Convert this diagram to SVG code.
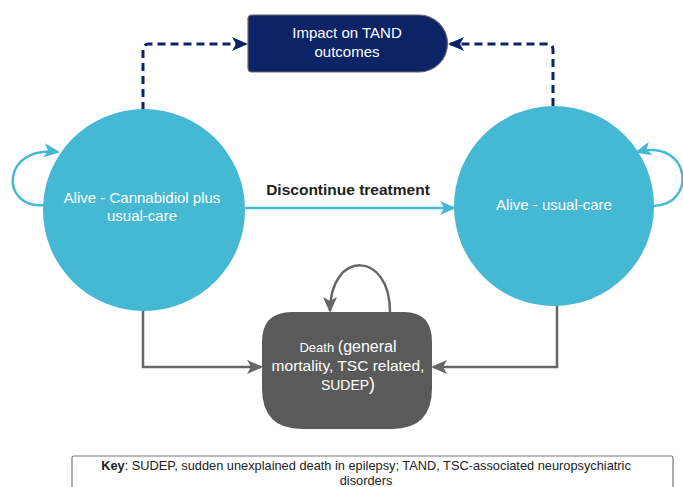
<svg xmlns="http://www.w3.org/2000/svg" width="683" height="487" viewBox="0 0 683 487">
<style>
text{font-family:"Liberation Sans",Arial,sans-serif;}
.w{fill:#ffffff;text-anchor:middle;}
.cy{fill:none;stroke:#45b8d3;stroke-width:2.5;}
.nv{fill:none;stroke:#0c2366;stroke-width:3;stroke-dasharray:8 5;}
.gy{fill:none;stroke:#666666;stroke-width:2.5;}
</style>
<defs>
<marker id="mc" markerUnits="userSpaceOnUse" markerWidth="16" markerHeight="14" refX="14" refY="7" orient="auto"><path d="M0,0 L16,7 L0,14 L4,7 Z" fill="#45b8d3"/></marker>
<marker id="mn" markerUnits="userSpaceOnUse" markerWidth="16" markerHeight="14" refX="14" refY="7" orient="auto"><path d="M0,0 L16,7 L0,14 L4,7 Z" fill="#0c2366"/></marker>
<marker id="mg" markerUnits="userSpaceOnUse" markerWidth="16" markerHeight="14" refX="14" refY="7" orient="auto"><path d="M0,0 L16,7 L0,14 L4,7 Z" fill="#666666"/></marker>
</defs>
<rect width="683" height="487" fill="#ffffff"/>
<g id="connectors">
<path class="nv" d="M143,110 V50 Q143,44 149,44 H246" marker-end="url(#mn)"/>
<path class="nv" d="M553,106 V50 Q553,44 547,44 H450" marker-end="url(#mn)"/>
<path class="cy" d="M245,208 H454" marker-end="url(#mc)"/>
<path class="cy" d="M45,205 C0,210 0,145 58,152" marker-end="url(#mc)"/>
<path class="cy" d="M653,206 C697,206 692,138 637,152" marker-end="url(#mc)"/>
<path class="gy" d="M143,308 V367 H261" marker-end="url(#mg)"/>
<path class="gy" d="M557,303 V367 H433" marker-end="url(#mg)"/>
<path class="gy" d="M390,312 C390,250 330,250 330,311" marker-end="url(#mg)"/>
<text x="348" y="195" font-size="15.5" font-weight="bold" fill="#222222" text-anchor="middle">Discontinue treatment</text>
</g>
<g id="impact">
<path d="M252,15 H419 A28.5,28.5 0 0 1 419,72 H252 Q248,72 248,68 V19 Q248,15 252,15 Z" fill="#0c2366" stroke="#666666" stroke-width="1.2"/>
<text class="w" x="347" y="38" font-size="15">Impact on TAND</text>
<text class="w" x="347" y="57" font-size="15">outcomes</text>
</g>
<g id="alive-cbd">
<circle cx="144" cy="210" r="101" fill="#45b8d3"/>
<text class="w" x="142" y="203" font-size="15">Alive - Cannabidiol plus</text>
<text class="w" x="142" y="221" font-size="15">usual-care</text>
</g>
<g id="alive-uc">
<circle cx="554" cy="206" r="100" fill="#45b8d3"/>
<text class="w" x="554" y="210" font-size="15">Alive - usual-care</text>
</g>
<g id="death">
<path d="M292,312 H404 Q432,312 432,342 V388 Q432,429 392,429 H302 Q262,429 262,388 V342 Q262,312 292,312 Z" fill="#5a5a5a"/>
<text class="w" x="348" y="352"><tspan font-size="13">Death </tspan><tspan font-size="16">(general</tspan></text>
<text class="w" x="348" y="371" font-size="15.5">mortality, TSC related,</text>
<text class="w" x="348" y="390"><tspan font-size="14">SUDEP</tspan><tspan font-size="18">)</tspan></text>
</g>
<g id="key">
<rect x="72" y="456" width="601" height="40" rx="2" fill="#ffffff" stroke="#777777" stroke-width="1.2"/>
<text x="366" y="470" font-size="12.8" fill="#222222" text-anchor="middle"><tspan font-weight="bold">Key</tspan>: SUDEP, sudden unexplained death in epilepsy; TAND, TSC-associated neuropsychiatric</text>
<text x="366" y="485" font-size="12.8" fill="#222222" text-anchor="middle">disorders</text>
</g>
</svg>
